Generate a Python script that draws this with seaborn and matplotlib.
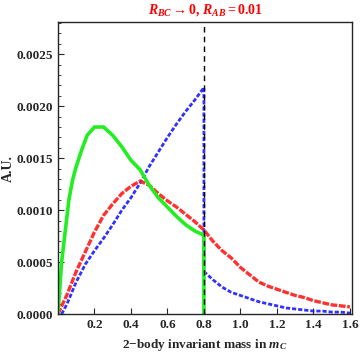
import matplotlib
matplotlib.use('Agg')
import matplotlib.pyplot as plt
import seaborn as sns
from matplotlib.ticker import MultipleLocator, FixedLocator

# values (x in units of m_C, y in A.U.)
green_x = [0.0, 0.02, 0.04, 0.06, 0.08, 0.10, 0.13, 0.16, 0.20, 0.25, 0.30, 0.35, 0.40,
           0.45, 0.50, 0.55, 0.60, 0.65, 0.70, 0.75, 0.80, 0.80]
green_y = [0.0, 0.00050, 0.00080, 0.00110, 0.00129, 0.00142, 0.00158, 0.00172, 0.00180,
           0.00180, 0.00172, 0.00161, 0.00148, 0.00139, 0.00124, 0.00112, 0.00103, 0.00094,
           0.00086, 0.00080, 0.00076, 0.0]

red_x = [0.0, 0.05, 0.10, 0.15, 0.20, 0.25, 0.30, 0.35, 0.40, 0.45, 0.50, 0.55, 0.60, 0.65,
         0.70, 0.75, 0.80, 0.85, 0.90, 0.95, 1.00, 1.05, 1.10, 1.15, 1.20, 1.25, 1.30, 1.35,
         1.40, 1.45, 1.50, 1.55, 1.60]
red_y = [0.0, 0.00019, 0.00041, 0.00060, 0.00079, 0.00095, 0.00106, 0.00116, 0.00123,
         0.00128, 0.00124, 0.00116, 0.00109, 0.00103, 0.00096, 0.00089, 0.00081, 0.00070,
         0.00061, 0.00054, 0.00045, 0.00038, 0.00031, 0.00027, 0.00024, 0.00021, 0.00018,
         0.00016, 0.00013, 0.00011, 0.00009, 0.00008, 0.00007]

blue_x = [0.02, 0.05, 0.10, 0.15, 0.20, 0.25, 0.30, 0.35, 0.40, 0.45, 0.50, 0.55, 0.60, 0.65,
          0.70, 0.75, 0.80, 0.80, 0.85, 0.90, 0.95, 1.00, 1.05, 1.10, 1.15, 1.20, 1.25, 1.30,
          1.35, 1.40, 1.45, 1.50, 1.55, 1.60]
blue_y = [0.0, 0.00010, 0.00031, 0.00048, 0.00061, 0.00073, 0.00086, 0.00100, 0.00112,
          0.00126, 0.00142, 0.00156, 0.00170, 0.00183, 0.00195, 0.00206, 0.00218, 0.00041,
          0.00033, 0.00026, 0.00021, 0.00018, 0.00015, 0.00012, 0.00010, 0.00008, 0.00006,
          0.00005, 0.00004, 0.00003, 0.00003, 0.00002, 0.00002, 0.00001]

cut = 0.8
xtick_vals = [0.2, 0.4, 0.6, 0.8, 1.0, 1.2, 1.4, 1.6]
ytick_vals = [0.0, 0.0005, 0.0010, 0.0015, 0.0020, 0.0025]

sns.set_style('ticks')
plt.rcParams['font.family'] = ['Liberation Serif', 'DejaVu Serif']
plt.rcParams['font.weight'] = 'bold'
plt.rcParams['mathtext.fontset'] = 'custom'
plt.rcParams['mathtext.rm'] = 'Liberation Serif:bold'
plt.rcParams['mathtext.it'] = 'Liberation Serif:italic:bold'

fig = plt.figure(figsize=(3.6, 3.55), dpi=100)
ax = fig.add_axes([0.161, 0.115, 0.817, 0.823])

sns.lineplot(x=blue_x, y=blue_y, ax=ax, color='#1a1aff', lw=2.0, alpha=0.9,
             linestyle=(0, (1.5, 0.7)), sort=False, estimator=None)
sns.lineplot(x=red_x, y=red_y, ax=ax, color='#ff1a1a', lw=2.4, alpha=0.9,
             linestyle=(0, (2, 0.5)), sort=False, estimator=None)
sns.lineplot(x=green_x, y=green_y, ax=ax, color='#22ee22', lw=2.6,
             sort=False, estimator=None)
ax.axvline(cut, color='black', lw=1.0, ls=(0, (4, 3)))

ax.set_xlim(0, 1.612)
ax.set_ylim(0, 0.00281)
ax.xaxis.set_major_locator(FixedLocator(xtick_vals))
ax.set_xticklabels([f'{v:.1f}' for v in xtick_vals])
ax.yaxis.set_major_locator(FixedLocator(ytick_vals))
ax.set_yticklabels([f'{v:.4f}' for v in ytick_vals])
ax.yaxis.set_minor_locator(MultipleLocator(0.0001))
ax.tick_params(direction='in', length=4, width=0.8, labelsize=9.5, top=False, right=False)
ax.tick_params(which='minor', direction='in', length=2.5, width=0.6)
for s in ax.spines.values():
    s.set_linewidth(1.0)

ax.set_title(r'$R_{BC}\rightarrow 0$, $R_{AB}=0.01$', color='red', fontsize=10,
             fontweight='bold', pad=6)
ax.set_xlabel(r'2$-$body invariant mass in $m_C$', fontsize=9.5, fontweight='bold', labelpad=4)
ax.set_ylabel('A.U.', fontsize=10, fontweight='bold', labelpad=1)

fig.savefig('out.png', dpi=100)
